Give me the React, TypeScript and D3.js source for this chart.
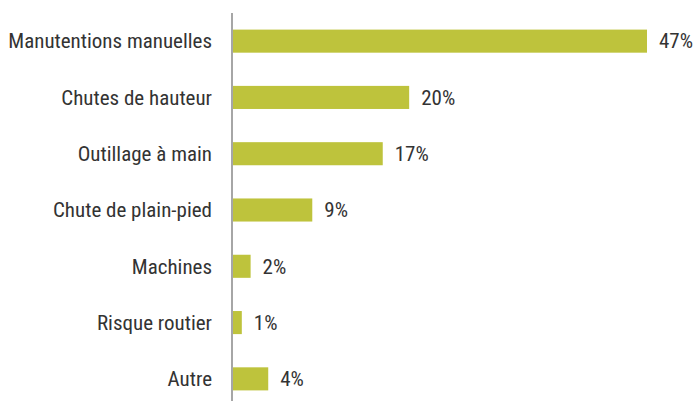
import React from "react";
import * as d3 from "d3";

const categories = [
  "Manutentions manuelles",
  "Chutes de hauteur",
  "Outillage à main",
  "Chute de plain-pied",
  "Machines",
  "Risque routier",
  "Autre",
];
const values = [47, 20, 17, 9, 2, 1, 4];

const W = 697;
const H = 401;

export default function App() {
  const x = d3.scaleLinear().domain([0, 47]).range([233, 647]);
  const y = d3
    .scaleBand<string>()
    .domain(categories)
    .range([13, 407])
    .paddingInner(0.59)
    .paddingOuter(0.295);
  const font = "'Roboto Condensed', 'Liberation Sans Narrow', Roboto, sans-serif";
  return (
    <svg
      width={W}
      height={H}
      style={{ position: "absolute", left: 0, top: 0, background: "#fff" }}
    >
      {categories.map((c, i) => {
        const yy = y(c)!;
        const bh = y.bandwidth();
        return (
          <g key={c}>
            <rect x={x(0)} y={yy} width={x(values[i]) - x(0)} height={bh} fill="#bec33c" />
            <text
              x={212}
              y={yy + bh / 2}
              dy="0.35em"
              textAnchor="end"
              fontFamily={font}
              fontSize={21}
              fill="#333"
              style={{ fontStretch: "condensed" }}
            >
              {c}
            </text>
            <text
              x={x(values[i]) + 12}
              y={yy + bh / 2}
              dy="0.35em"
              textAnchor="start"
              fontFamily={font}
              fontSize={21}
              fill="#333"
            >
              {values[i] + "%"}
            </text>
          </g>
        );
      })}
      <line x1={232} x2={232} y1={13} y2={H} stroke="#888" strokeWidth={1.5} />
    </svg>
  );
}
